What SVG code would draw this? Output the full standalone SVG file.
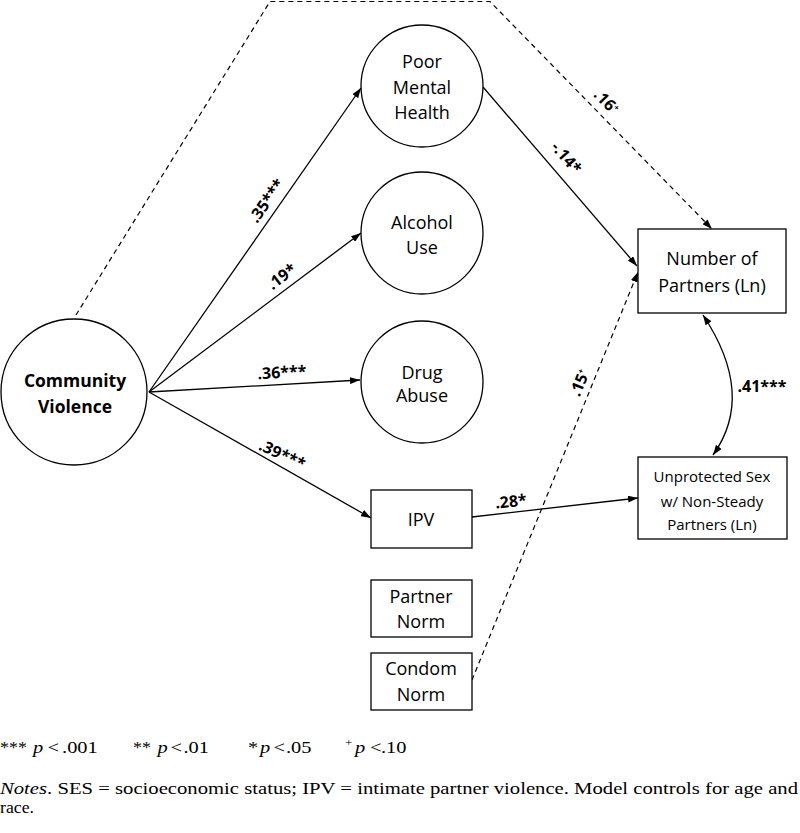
<svg xmlns="http://www.w3.org/2000/svg" width="800" height="833" viewBox="0 0 800 833">
<style>
.nd{fill:#fff;stroke:#000;stroke-width:1.3}
.t{font-family:"Open Sans","Liberation Sans",sans-serif;font-size:18px;fill:#000;text-anchor:middle}
.ts{font-family:"Open Sans","Liberation Sans",sans-serif;font-size:15px;fill:#000;text-anchor:middle}
.tb{font-family:"Open Sans","Liberation Sans",sans-serif;font-size:17.5px;font-weight:bold;fill:#000;text-anchor:middle}
.c{fill:none;stroke:#000;stroke-width:1.3}
.d{fill:none;stroke:#000;stroke-width:1.2;stroke-dasharray:5 4}
.lb{font-family:"Open Sans","Liberation Sans",sans-serif;font-size:16px;font-weight:bold;fill:#000;text-anchor:middle}
.ft{font-family:"Liberation Serif","Times New Roman",serif;font-size:17px;fill:#000}
</style>
<defs>
<marker id="ah" viewBox="0 0 10 7" refX="10" refY="3.5" markerWidth="10" markerHeight="7" markerUnits="userSpaceOnUse" orient="auto-start-reverse">
<path d="M0,0 L10,3.5 L0,7 z" fill="#000"/>
</marker>
</defs>
<rect width="800" height="833" fill="#fff"/>

<g id="connectors">
<path class="d" d="M76,315 L270,1.5 L490,1.5 L712,229" marker-end="url(#ah)"/>
<path class="c" d="M149,392 L361,88" marker-end="url(#ah)"/>
<path class="c" d="M149,392 L361,233" marker-end="url(#ah)"/>
<path class="c" d="M149,392 L360,380" marker-end="url(#ah)"/>
<path class="c" d="M149,392 L371,518" marker-end="url(#ah)"/>
<path class="c" d="M483,87 L637,266" marker-end="url(#ah)"/>
<path class="d" d="M472,680 L638,272" marker-end="url(#ah)"/>
<path class="c" d="M472,517 L638,498" marker-end="url(#ah)"/>
<path class="c" d="M703,315 Q756,395 713,455" marker-start="url(#ah)" marker-end="url(#ah)"/>
</g>

<g id="labels">
<text class="lb" transform="translate(267,201) rotate(-55)" y="5">.35***</text>
<text class="lb" transform="translate(282,277) rotate(-37)" y="5">.19*</text>
<text class="lb" transform="translate(282,373) rotate(-3)" y="5">.36***</text>
<text class="lb" transform="translate(282,455) rotate(25)" y="5">.39***</text>
<text class="lb" transform="translate(566,158) rotate(49)" y="5">-.14*</text>
<text class="lb" transform="translate(606,102) rotate(46)" y="5">.16<tspan font-size="8" dy="-6">+</tspan></text>
<text class="lb" transform="translate(580,383) rotate(-68)" y="5">.15<tspan font-size="8" dy="-6">+</tspan></text>
<text class="lb" transform="translate(511,502) rotate(-6)" y="5">.28*</text>
<text class="lb" x="762" y="392">.41***</text>
</g>

<g id="community-violence">
<circle class="nd" cx="74" cy="392" r="73"/>
<text class="tb" x="75" y="387">Community</text>
<text class="tb" x="75" y="413">Violence</text>
</g>

<g id="poor-mental-health">
<circle class="nd" cx="422" cy="86" r="61"/>
<text class="t" x="422" y="68">Poor</text>
<text class="t" x="422" y="94">Mental</text>
<text class="t" x="422" y="119">Health</text>
</g>

<g id="alcohol-use">
<circle class="nd" cx="422" cy="233" r="61"/>
<text class="t" x="422" y="229">Alcohol</text>
<text class="t" x="422" y="254">Use</text>
</g>

<g id="drug-abuse">
<circle class="nd" cx="422" cy="382" r="61"/>
<text class="t" x="422" y="379">Drug</text>
<text class="t" x="422" y="402">Abuse</text>
</g>

<g id="ipv">
<rect class="nd" x="371" y="490" width="101" height="58"/>
<text class="t" x="421" y="526">IPV</text>
</g>

<g id="partner-norm">
<rect class="nd" x="371" y="580" width="101" height="57"/>
<text class="t" x="421" y="603">Partner</text>
<text class="t" x="421" y="628">Norm</text>
</g>

<g id="condom-norm">
<rect class="nd" x="371" y="653" width="101" height="57"/>
<text class="t" x="421" y="675">Condom</text>
<text class="t" x="421" y="701">Norm</text>
</g>

<g id="number-of-partners">
<rect class="nd" x="638" y="229" width="148" height="84"/>
<text class="t" x="712" y="265">Number of</text>
<text class="t" x="712" y="292">Partners (Ln)</text>
</g>

<g id="unprotected-sex">
<rect class="nd" x="638" y="457" width="149" height="82"/>
<text class="ts" x="712" y="482">Unprotected Sex</text>
<text class="ts" x="712" y="507">w/ Non-Steady</text>
<text class="ts" x="712" y="530">Partners (Ln)</text>
</g>

<g id="footer">
<text class="ft" transform="scale(1.2,1)" y="753"><tspan x="0" textLength="22.5" lengthAdjust="spacingAndGlyphs">***</tspan><tspan x="27.5" font-style="italic">p</tspan><tspan x="39.6">&lt;</tspan><tspan x="51.7">.001</tspan><tspan x="110.8" textLength="15" lengthAdjust="spacingAndGlyphs">**</tspan><tspan x="131.2" font-style="italic">p</tspan><tspan x="142.1">&lt;</tspan><tspan x="152.9">.01</tspan><tspan x="206.7">*</tspan><tspan x="216.7" font-style="italic">p</tspan><tspan x="227.9">&lt;</tspan><tspan x="238.3">.05</tspan><tspan x="287.5" font-size="11" dy="-7">+</tspan><tspan x="295.8" dy="7" font-style="italic">p</tspan><tspan x="308.3">&lt;</tspan><tspan x="317.5">.10</tspan></text>
<text class="ft" x="0" y="794" textLength="798" lengthAdjust="spacingAndGlyphs"><tspan font-style="italic">Notes</tspan>. SES = socioeconomic status; IPV = intimate partner violence. Model controls for age and</text>
<text class="ft" x="0" y="813" textLength="34" lengthAdjust="spacingAndGlyphs">race.</text>
</g>
</svg>
